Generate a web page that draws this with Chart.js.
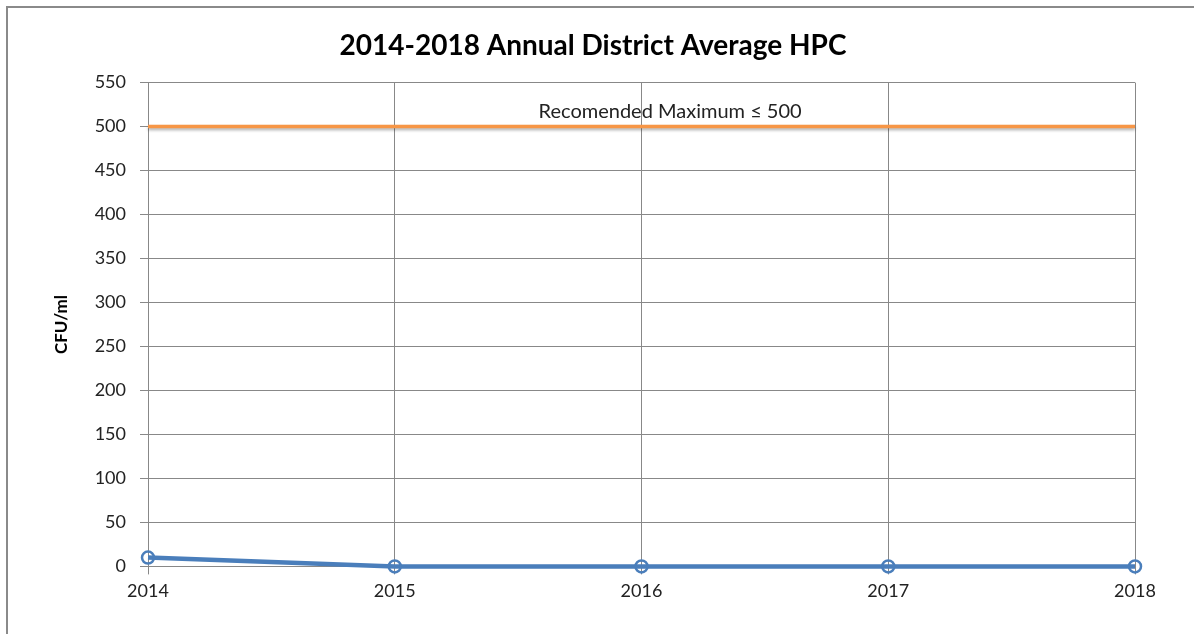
<!DOCTYPE html>
<html>
<head>
<meta charset="utf-8">
<script src="https://cdn.jsdelivr.net/npm/chart.js@4.4.1/dist/chart.umd.min.js"></script>
<style>
html,body{margin:0;padding:0;background:#fff;}
#wrap{position:relative;width:1194px;height:634px;overflow:hidden;}
#frame{position:absolute;left:6px;top:6px;width:1200px;height:640px;border-left:2px solid #8a8a8a;border-top:2px solid #8a8a8a;pointer-events:none;}
canvas{position:absolute;left:0;top:0;}
</style>
</head>
<body>
<div id="wrap">
<canvas id="c" width="1194" height="634"></canvas>
<div id="frame"></div>
</div>
<script>
const years = ['2014', '2015', '2016', '2017', '2018'];
const hpcAverage = [10, 0, 0, 0, 0];
const recommendedMax = [500, 500, 500, 500, 500];
const yTicks = [0, 50, 100, 150, 200, 250, 300, 350, 400, 450, 500, 550];
const titleText = '2014-2018 Annual District Average HPC';
const yTitle = 'CFU/ml';
const limitLabel = 'Recomended Maximum \u2264 500';

const FONT = 'Lato, "Open Sans", sans-serif';

const shadowPlugin = {
  id: 'shadowLine',
  beforeDatasetDraw(chart, args) {
    if (args.index === 1) {
      const ctx = chart.ctx;
      ctx.save();
      ctx.shadowColor = 'rgba(0,0,0,0.3)';
      ctx.shadowBlur = 3;
      ctx.shadowOffsetY = 2;
    }
  },
  afterDatasetDraw(chart, args) {
    if (args.index === 1) chart.ctx.restore();
  }
};

const labelPlugin = {
  id: 'limitLabel',
  afterDatasetsDraw(chart) {
    const ctx = chart.ctx;
    const a = chart.chartArea;
    const y = chart.scales.y.getPixelForValue(517);
    const x = a.left + 0.529 * (a.right - a.left);
    ctx.save();
    ctx.font = '20px ' + FONT;
    ctx.fillStyle = '#222';
    ctx.textAlign = 'center';
    ctx.textBaseline = 'middle';
    ctx.fillText(limitLabel, x, y);
    ctx.restore();
  }
};

new Chart(document.getElementById('c'), {
  type: 'line',
  data: {
    labels: years,
    datasets: [
      {
        label: 'HPC',
        data: hpcAverage,
        borderColor: '#4a7ebb',
        borderWidth: 4.5,
        pointStyle: 'circle',
        pointRadius: 6,
        pointBorderWidth: 2.5,
        pointBorderColor: '#4a7ebb',
        pointBackgroundColor: 'rgba(0,0,0,0)',
        tension: 0,
        clip: false,
        order: 1
      },
      {
        label: 'Recommended Maximum',
        data: recommendedMax,
        borderColor: '#f79646',
        borderWidth: 3.5,
        pointRadius: 0,
        tension: 0,
        clip: false,
        order: 2
      }
    ]
  },
  plugins: [shadowPlugin, labelPlugin],
  options: {
    responsive: false,
    animation: false,
    devicePixelRatio: 1,
    layout: { padding: { left: 51, right: 59, top: 21, bottom: 26 } },
    plugins: {
      legend: { display: false },
      tooltip: { enabled: false },
      title: {
        display: true,
        text: titleText,
        color: '#000',
        font: { family: FONT, size: 28, weight: 'bold' },
        padding: { top: 8, bottom: 20 }
      }
    },
    scales: {
      x: {
        offset: false,
        grid: { color: '#888', lineWidth: 1, tickLength: 8, drawTicks: true },
        border: { color: '#888', width: 1 },
        ticks: { color: '#222', font: { family: FONT, size: 18 }, padding: 6, maxRotation: 0 }
      },
      y: {
        min: 0,
        max: 550,
        afterBuildTicks(scale) { scale.ticks = yTicks.map(v => ({ value: v })); },
        afterFit(scale) { scale.width = 97; },
        grid: { color: '#888', lineWidth: 1, tickLength: 8 },
        border: { color: '#888', width: 1 },
        ticks: { color: '#222', font: { family: FONT, size: 18 }, padding: 14 },
        title: {
          display: true,
          text: yTitle,
          color: '#000',
          font: { family: FONT, size: 17, weight: 'bold' },
          padding: { top: 0, bottom: 0 }
        }
      }
    }
  }
});
</script>
</body>
</html>
